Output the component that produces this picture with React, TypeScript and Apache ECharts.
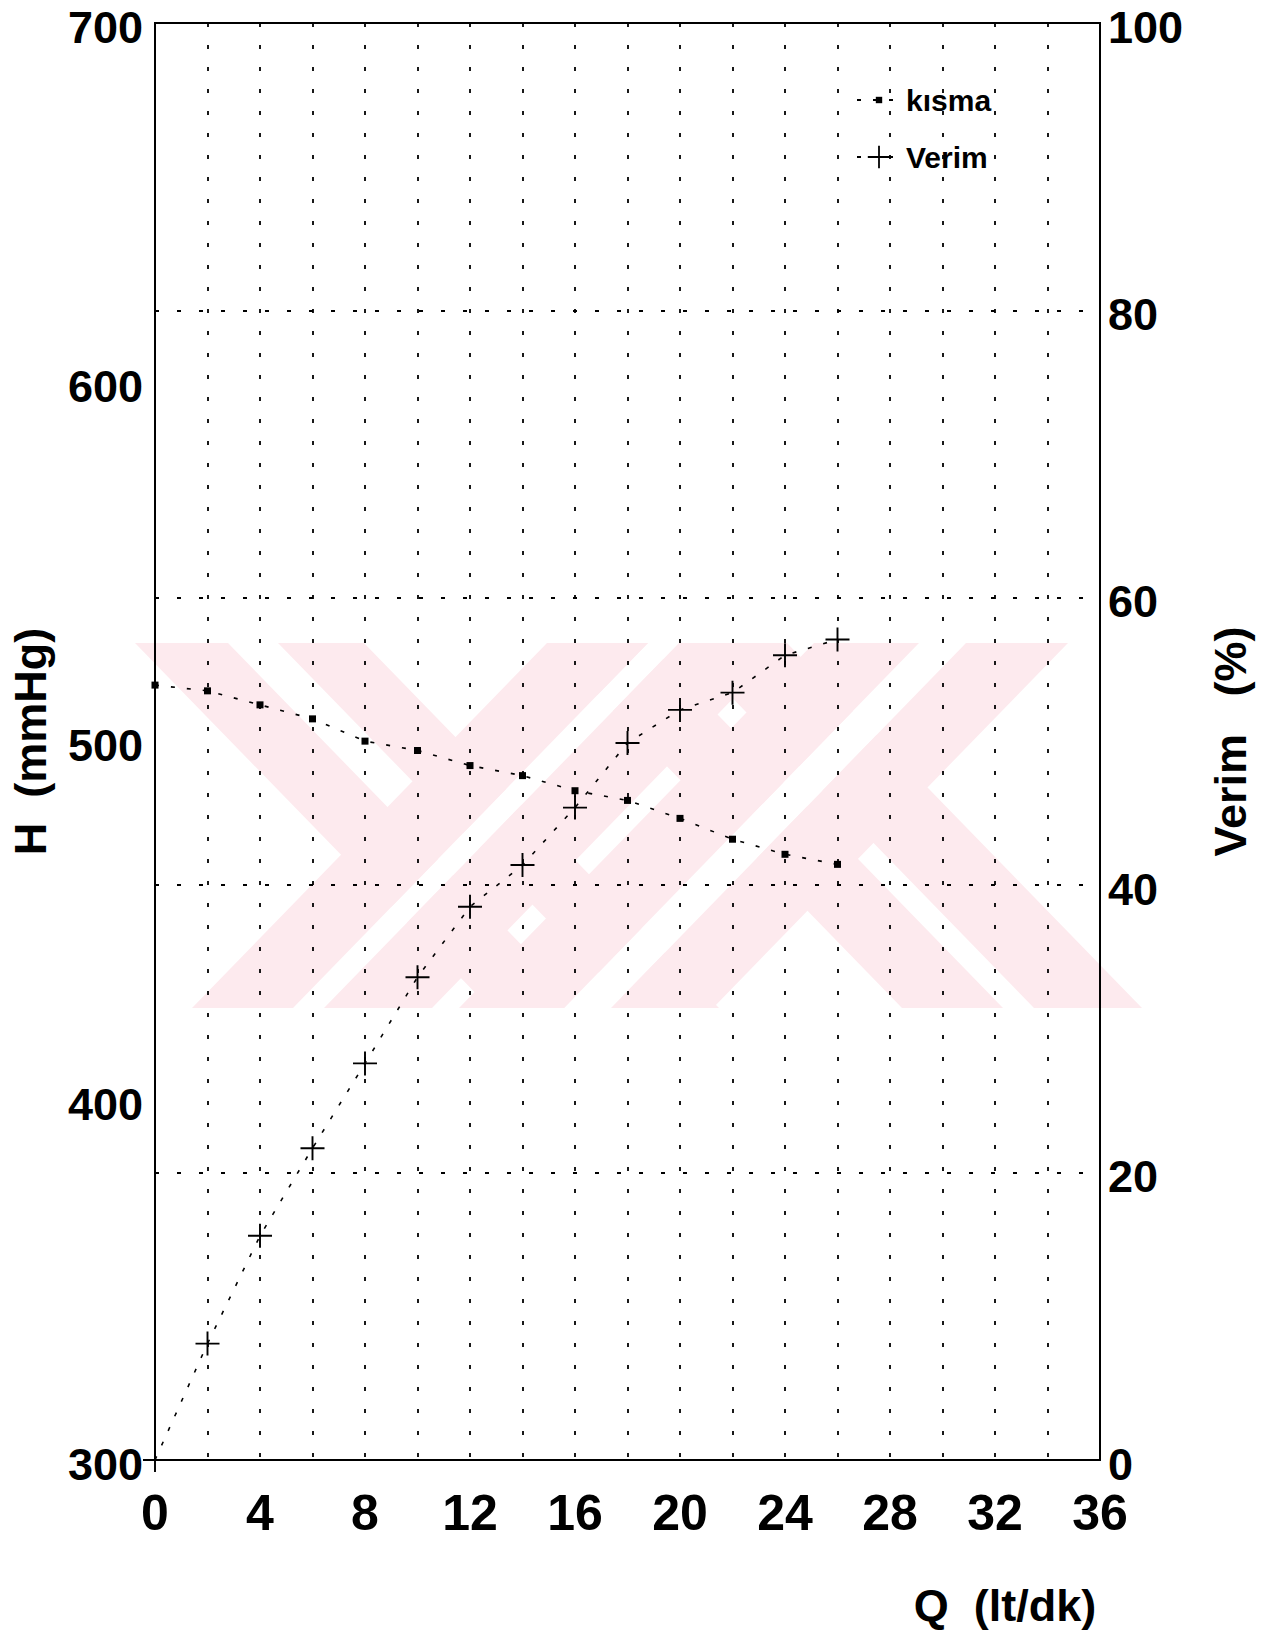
import React, { useEffect, useRef } from "react";
import * as echarts from "echarts";

// ---- data ----
const qValues = [0, 2, 4, 6, 8, 10, 12, 14, 16, 18, 20, 22, 24, 26];
const kismaValues = [515.7, 514.1, 510.2, 506.3, 500.1, 497.5, 493.3, 490.5, 486.3, 483.6, 478.6, 472.8, 468.6, 465.8];
const verimValues = [0, 8.1, 15.6, 21.7, 27.6, 33.6, 38.5, 41.4, 45.4, 49.9, 52.2, 53.4, 56.0, 57.1];
const xTickLabels = [0, 4, 8, 12, 16, 20, 24, 28, 32, 36];
const hTickLabels = [300, 400, 500, 600, 700];
const verimTickLabels = [0, 20, 40, 60, 80, 100];

const FONT = '"Liberation Sans", Arial, Helvetica, sans-serif';
const CROSS =
  "path://M-0.08,-1 L0.08,-1 L0.08,-0.08 L1,-0.08 L1,0.08 L0.08,0.08 L0.08,1 L-0.08,1 L-0.08,0.08 L-1,0.08 L-1,-0.08 L-0.08,-0.08 Z";

// ---- watermark geometry (background decoration) ----
const WM_Y0 = 643;
const WM_Y1 = 1008;
const WM_S = 355;
const PINK = "#fdeaee";

function band(xa: number, xb: number, dir: number, fill: string) {
  return {
    type: "polygon",
    silent: true,
    z: -10,
    shape: {
      points: [
        [xa, WM_Y0],
        [xb, WM_Y0],
        [xb + dir * WM_S, WM_Y1],
        [xa + dir * WM_S, WM_Y1],
      ],
    },
    style: { fill, stroke: null, lineWidth: 0 },
  };
}

function watermark() {
  return [
    band(135, 228, 1, PINK),
    band(278, 364, 1, PINK),
    band(547, 648, 1, PINK),
    band(679, 787, 1, PINK),
    band(648, 679, -1, "#ffffff"),
    band(919, 966, -1, "#ffffff"),
    band(547, 648, -1, PINK),
    band(679, 787, -1, PINK),
    band(814, 919, -1, PINK),
    band(966, 1068, -1, PINK),
  ];
}

const dotted = { color: "#000", width: 1.8, type: [4, 18] as number[] };

export default function App() {
  const ref = useRef<HTMLDivElement>(null);

  useEffect(() => {
    if (!ref.current) return;
    const chart = echarts.init(ref.current, null, { renderer: "svg" });
    const yLabel = {
      color: "#000",
      fontFamily: FONT,
      fontSize: 45,
      fontWeight: "bold",
      rich: {
        p: {
          color: "#000",
          fontFamily: FONT,
          fontSize: 45,
          fontWeight: "bold",
          lineHeight: 36,
          padding: [8, 0, 0, 0],
        },
      },
    };
    const option: any = {
      animation: false,
      backgroundColor: "#ffffff",
      textStyle: { fontFamily: FONT },
      graphic: { elements: watermark() },
      grid: {
        left: 155,
        top: 23,
        width: 945,
        height: 1437,
        show: true,
        borderColor: "#000",
        borderWidth: 2,
        backgroundColor: "transparent",
        containLabel: false,
        outerBoundsMode: "none",
      },
      legend: [
        {
          data: ["kısma"],
          left: 851,
          top: 80,
          itemWidth: 44,
          itemHeight: 8,
          selectedMode: false,
          textStyle: { fontFamily: FONT, fontSize: 30, fontWeight: "bold", color: "#000" },
        },
        {
          data: ["Verim"],
          left: 851,
          top: 137,
          itemWidth: 44,
          itemHeight: 28,
          selectedMode: false,
          textStyle: { fontFamily: FONT, fontSize: 30, fontWeight: "bold", color: "#000" },
        },
      ],
      xAxis: {
        type: "value",
        min: 0,
        max: 36,
        interval: 2,
        axisLine: { show: true, onZero: false, lineStyle: { color: "#000", width: 2 } },
        axisTick: { show: false },
        axisLabel: {
          color: "#000",
          fontFamily: FONT,
          fontSize: 50,
          fontWeight: "bold",
          margin: 28,
          formatter: (v: number) => (xTickLabels.includes(v) ? String(v) : ""),
        },
        splitLine: { show: true, lineStyle: dotted },
        name: "Q  (lt/dk)",
        nameLocation: "middle",
        nameGap: 123,
        nameTextStyle: {
          color: "#000",
          fontFamily: FONT,
          fontSize: 45,
          fontWeight: "bold",
          verticalAlign: "top",
          padding: [0, 0, 0, 755],
        },
      },
      yAxis: [
        {
          type: "value",
          position: "left",
          min: 300,
          max: 700,
          interval: 100,
          axisLine: { show: true, lineStyle: { color: "#000", width: 2 } },
          axisTick: { show: false },
          axisLabel: {
            ...yLabel,
            margin: 12,
            formatter: (v: number) => (hTickLabels.includes(v) ? "{p|" + v + "}" : ""),
          },
          splitLine: { show: false },
          name: "H  (mmHg)",
          nameLocation: "middle",
          nameGap: 102,
          nameRotate: 90,
          nameTextStyle: { color: "#000", fontFamily: FONT, fontSize: 45, fontWeight: "bold" },
        },
        {
          type: "value",
          position: "right",
          min: 0,
          max: 100,
          interval: 20,
          axisLine: { show: true, lineStyle: { color: "#000", width: 2 } },
          axisTick: { show: false },
          axisLabel: {
            ...yLabel,
            margin: 8,
            formatter: (v: number) => (verimTickLabels.includes(v) ? "{p|" + v + "}" : ""),
          },
          splitLine: { show: true, lineStyle: dotted },
          name: "Verim   (%)",
          nameLocation: "middle",
          nameGap: 108,
          nameRotate: 90,
          nameTextStyle: { color: "#000", fontFamily: FONT, fontSize: 45, fontWeight: "bold" },
        },
      ],
      series: [
        {
          name: "kısma",
          type: "line",
          yAxisIndex: 0,
          data: qValues.map((q, i) => [q, kismaValues[i]]),
          symbol: "rect",
          symbolSize: 7,
          itemStyle: { color: "#000" },
          lineStyle: { color: "#000", width: 1.6, type: [4, 12] },
          z: 3,
        },
        {
          name: "Verim",
          type: "line",
          yAxisIndex: 1,
          data: qValues.map((q, i) => [q, verimValues[i]]),
          symbol: CROSS,
          symbolSize: 24,
          itemStyle: { color: "#000" },
          lineStyle: { color: "#000", width: 1.6, type: [4, 12] },
          z: 3,
        },
      ],
    };
    chart.setOption(option);
    return () => chart.dispose();
  }, []);

  return (
    <div
      ref={ref}
      style={{ position: "absolute", left: 0, top: 0, width: 1276, height: 1637, background: "#fff" }}
    />
  );
}
